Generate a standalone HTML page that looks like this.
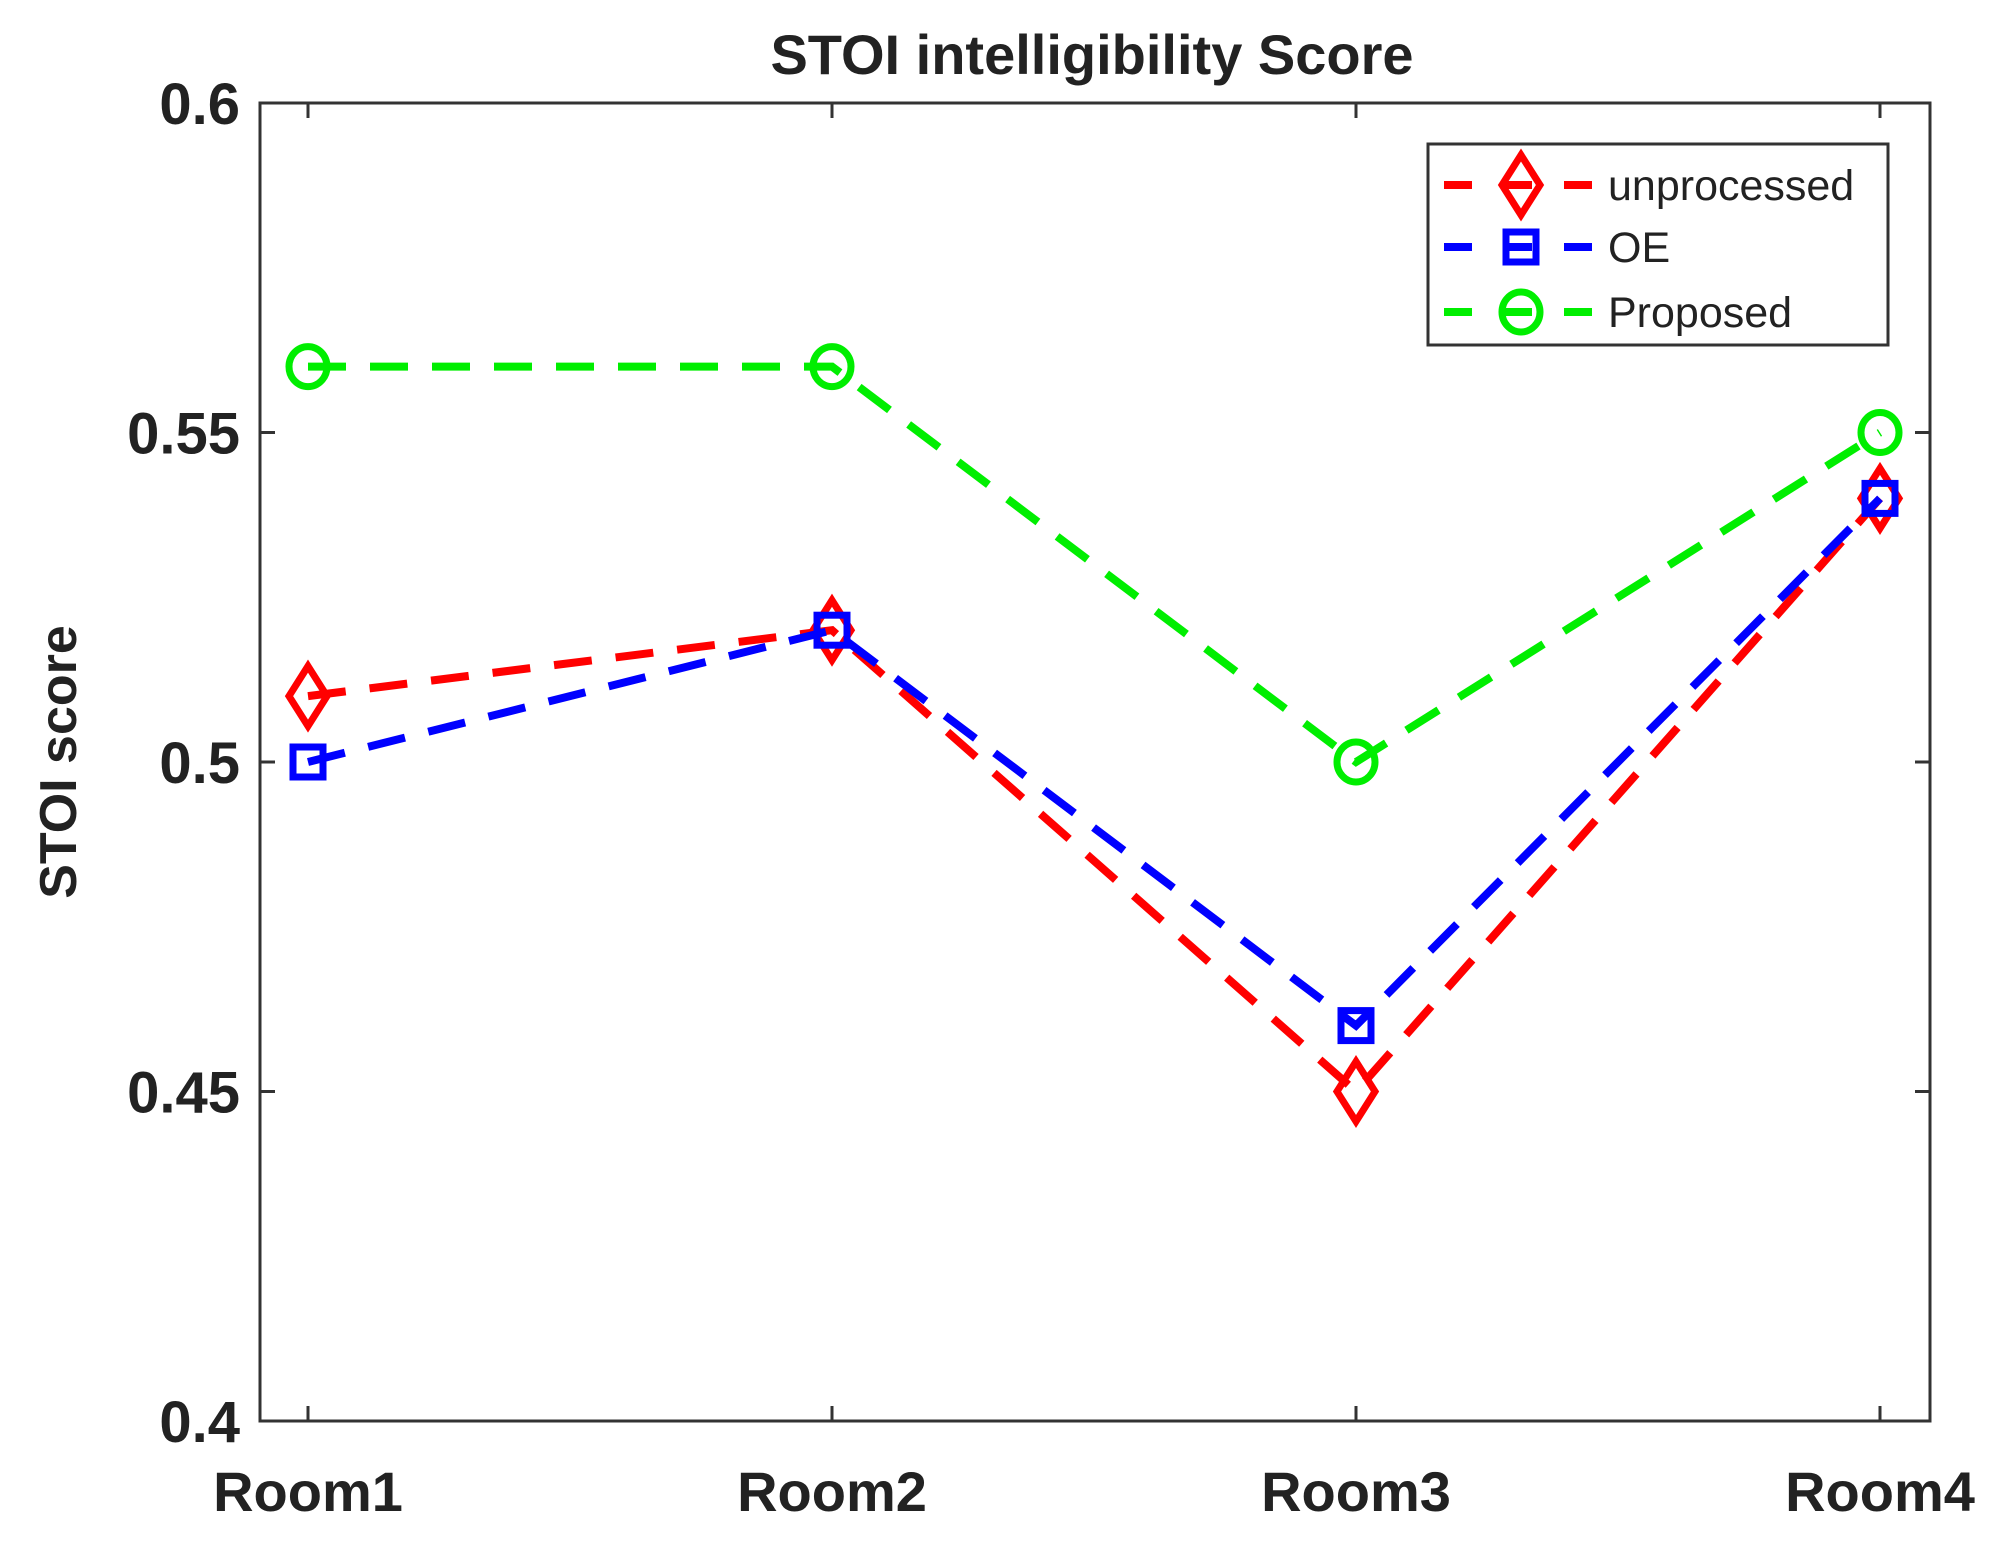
<!DOCTYPE html>
<html><head><meta charset="utf-8"><style>
html,body{margin:0;padding:0;background:#fff;}
svg{display:block;font-family:"Liberation Sans",Arial,sans-serif;}
</style></head><body>
<svg id="chart" width="2004" height="1551" viewBox="0 0 2004 1551">
<text x="1092" y="74" text-anchor="middle" font-size="56" font-weight="bold" fill="#222">STOI intelligibility Score</text>
<text transform="translate(76,762) rotate(-90)" text-anchor="middle" font-size="52" font-weight="bold" fill="#222">STOI score</text>
<g id="axes"></g>
<g id="series"></g>
<rect x="260" y="103" width="1670" height="1318" fill="none" stroke="#333" stroke-width="3"/>
<g id="legend"></g>
</svg>
<script>
const categories = ["Room1","Room2","Room3","Room4"];
const unprocessed = [0.51,0.52,0.45,0.54];
const oe = [0.50,0.52,0.46,0.54];
const proposed = [0.56,0.56,0.50,0.55];
const yTicks = [0.4,0.45,0.5,0.55,0.6];
const yTickLabels = ["0.4","0.45","0.5","0.55","0.6"];
const seriesNames = ["unprocessed","OE","Proposed"];

const NS="http://www.w3.org/2000/svg";
const L=260,R=1930,T=103,B=1421,X0=308,X1=1880,YMIN=0.4,YMAX=0.6;
const xs=i=>X0+(X1-X0)*i/(categories.length-1);
const ys=v=>B-(v-YMIN)/(YMAX-YMIN)*(B-T);
function mk(tag,at,parent){const e=document.createElementNS(NS,tag);for(const k in at)e.setAttribute(k,at[k]);parent.appendChild(e);return e;}
const axes=document.getElementById('axes');
yTicks.forEach((v,i)=>{
  const y=ys(v);
  let t=mk('line',{x1:L,x2:L+15,y1:y,y2:y,stroke:'#333','stroke-width':3},axes);
  
  
  t=mk('line',{x1:R-15,x2:R,y1:y,y2:y,stroke:'#333','stroke-width':3},axes);
  
  
  const lb=mk('text',{x:L-20,y:y+21,'text-anchor':'end','font-size':58,'font-weight':'bold',fill:'#222'},axes);
  lb.textContent=yTickLabels[i];
  
  
});
categories.forEach((c,i)=>{
  const x=xs(i);
  let t=mk('line',{x1:x,x2:x,y1:B,y2:B-15,stroke:'#333','stroke-width':3},axes);
  
  
  t=mk('line',{x1:x,x2:x,y1:T,y2:T+15,stroke:'#333','stroke-width':3},axes);
  
  
  const lb=mk('text',{x:x,y:B+90,'text-anchor':'middle','font-size':56,'font-weight':'bold',fill:'#222'},axes);
  lb.textContent=c;
  
  
});
function marker(type,x,y,col,parent){
  let e;
  if(type==='d') e=mk('polygon',{points:`${x},${y-30} ${x+19},${y} ${x},${y+30} ${x-19},${y}`,fill:'none',stroke:col,'stroke-width':7},parent);
  else if(type==='s') e=mk('rect',{x:x-15,y:y-15,width:30,height:30,fill:'none',stroke:col,'stroke-width':7},parent);
  else e=mk('ellipse',{cx:x,cy:y,rx:19,ry:20,fill:'none',stroke:col,'stroke-width':7},parent);
  return e;
}
const sdefs=[[unprocessed,'#ff0000','d'],[oe,'#0000ff','s'],[proposed,'#00ee00','o']];
const sg=document.getElementById('series');
sdefs.forEach(([vals,col,m],si)=>{
  const pts=vals.map((v,i)=>xs(i)+','+ys(v)).join(' ');
  const pl=mk('polyline',{points:pts,fill:'none',stroke:col,'stroke-width':8,'stroke-dasharray':'38 24'},sg);
  
  
  vals.forEach((v,i)=>{
    const e=marker(m,xs(i),ys(v),col,sg);
    
    
  });
});
const lg=document.getElementById('legend');
const box=mk('rect',{x:1428,y:144,width:460,height:201,fill:'#fff',stroke:'#333','stroke-width':3},lg);


const rowsY=[185,247,312];
sdefs.forEach(([vals,col,m],si)=>{
  const y=rowsY[si];
  const ln=mk('line',{x1:1444,x2:1600,y1:y,y2:y,stroke:col,'stroke-width':8,'stroke-dasharray':'28 32'},lg);
  
  
  const e=marker(m,1521,y,col,lg);
  
  
  const tx=mk('text',{x:1608,y:y+15,'font-size':43,fill:'#222'},lg);
  tx.textContent=seriesNames[si];
  
  
});
</script>
</body></html>
